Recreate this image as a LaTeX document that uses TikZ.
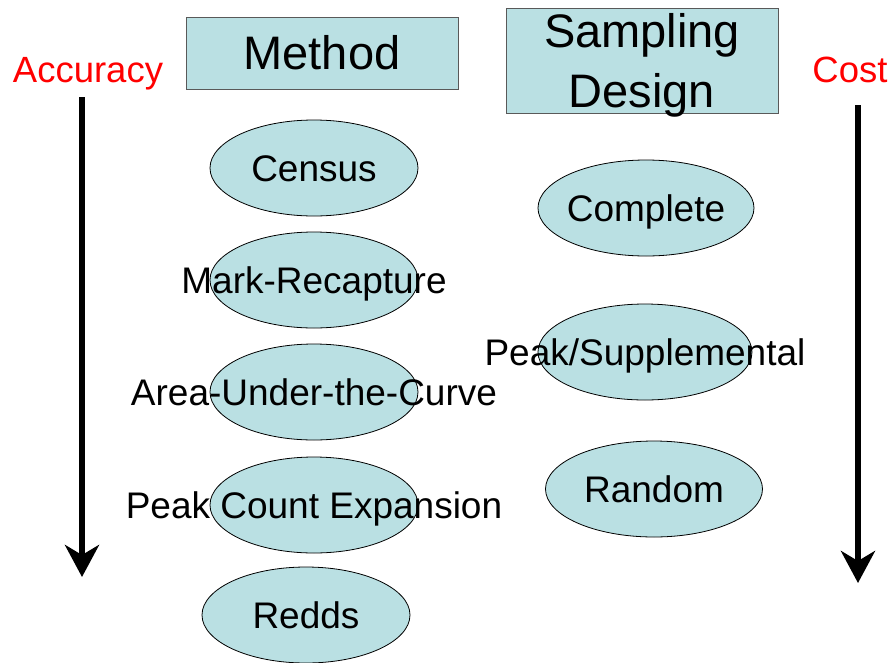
\documentclass[tikz,border=0pt]{standalone}
\usepackage{fontspec}
\setmainfont{Liberation Sans}
\usetikzlibrary{shapes.geometric, arrows.meta}

\definecolor{boxfill}{HTML}{BAE0E3}
\definecolor{boxline}{HTML}{595959}

\tikzstyle{heading} = [rectangle, minimum width = 272pt, draw = boxline, fill = boxfill, line width = 1pt, align = center, font = \fontsize{47}{60}\selectfont, text height = 33.6pt, text depth = 0pt]
\tikzstyle{oval} = [ellipse, minimum width = 208pt, minimum height = 96pt, inner sep = 0pt, draw = black, fill = boxfill, line width = 0.8pt]
\tikzstyle{side} = [text = red, anchor = base, font = \fontsize{36.5}{40}\selectfont]
\tikzstyle{trend} = [line width = 6pt, -{Stealth[length = 32pt, width = 34pt, inset = 10pt]}]

\begin{document}
\begin{tikzpicture}[x = 1pt, y = -1pt, every label/.style = {font = \fontsize{37}{40}\selectfont, text height = 26.5pt, text depth = 0pt, inner sep = 0pt}]

    \useasboundingbox (0,0) rectangle (892,662);

    \node(method)[heading, minimum height = 72pt] at (322,53) {Method};
    \node(design)[heading, minimum height = 105pt, text height = 93.6pt] at (642,61) {Sampling\\Design};

    \node(accuracy)[side] at (88,82) {Accuracy};
    \node(cost)[side] at (850,82) {Cost};

    \node(census)[oval, label = center:Census] at (314,168) {};
    \node(mark)[oval, label = center:Mark-Recapture] at (314,280) {};
    \node(area)[oval, label = center:Area-Under-the-Curve] at (314,392) {};
    \node(peak)[oval, label = center:Peak Count Expansion] at (314,505) {};
    \node(redds)[oval, label = center:Redds] at (306,615) {};

    \node(complete)[oval, minimum width = 216pt, label = center:Complete] at (646,208) {};
    \node(supp)[oval, minimum width = 214pt, label = center:Peak/Supplemental] at (645,352) {};
    \node(random)[oval, minimum width = 217pt, label = center:Random] at (654,489) {};

    \coordinate(acctop) at (82,97);
    \coordinate(accend) at (82,577);
    \coordinate(costtop) at (858,105);
    \coordinate(costend) at (858,583);

    \draw[trend](acctop) -- (accend);
    \draw[trend](costtop) -- (costend);

\end{tikzpicture}
\end{document}
